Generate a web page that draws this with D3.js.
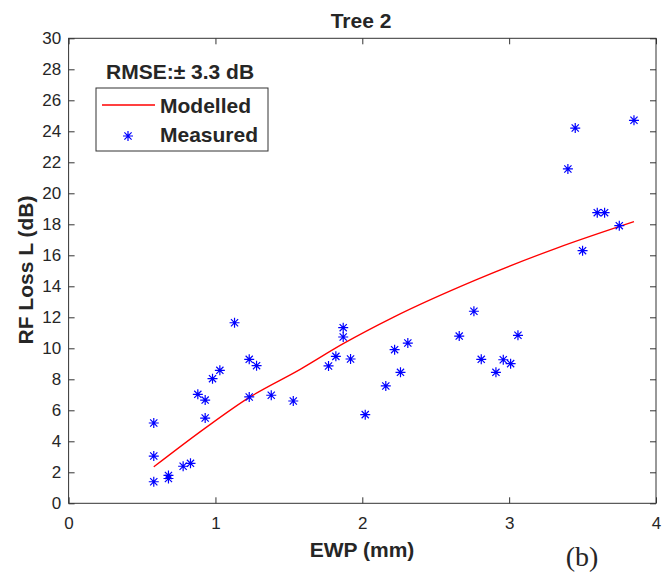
<!DOCTYPE html>
<html>
<head>
<meta charset="utf-8">
<script src="https://cdn.jsdelivr.net/npm/d3@7"></script>
<style>
  body { margin: 0; background: #fff; }
  text { font-family: "Liberation Sans", Arial, sans-serif; fill: #262626; }
</style>
</head>
<body>
<svg id="chart" width="665" height="575"></svg>
<script>
// measured points (EWP mm, RF loss dB)
const measuredX = [0.58, 0.58, 0.58, 0.68, 0.68, 0.78, 0.83, 0.88, 0.93, 0.93, 0.98, 1.03, 1.13, 1.23, 1.23, 1.28, 1.38, 1.53,
  1.77, 1.82, 1.87, 1.87, 1.92, 2.02, 2.16, 2.22, 2.26, 2.31, 2.66, 2.76, 2.81, 2.91, 2.96, 3.01, 3.06,
  3.40, 3.45, 3.50, 3.60, 3.65, 3.75, 3.85];
const measuredY = [5.18, 3.05, 1.39, 1.8, 1.6, 2.39, 2.58, 7.03, 6.66, 5.50, 8.04, 8.58, 11.65, 9.29, 6.86, 8.88, 6.97, 6.60,
  8.86, 9.48, 11.33, 10.73, 9.31, 5.72, 7.57, 9.91, 8.45, 10.34, 10.79, 12.39, 9.29, 8.45, 9.26, 9.01, 10.84,
  21.57, 24.21, 16.30, 18.75, 18.75, 17.91, 24.71];

// modelled curve
const modelX = [0.58, 0.93, 1.22, 1.58, 1.87, 2.21, 2.77, 3.32, 3.85];
const modelY = [2.35, 4.85, 6.77, 8.66, 10.3, 12.0, 14.4, 16.45, 18.17];

const xTicks = [0, 1, 2, 3, 4];
const yTicks = d3.range(0, 31, 2);

const svg = d3.select("#chart");
const plotL = 68.6, plotR = 656, plotT = 38.3, plotB = 503.3;

const x = d3.scaleLinear().domain([0, 4]).range([plotL, plotR]);
const y = d3.scaleLinear().domain([0, 30]).range([plotB, plotT]);

// axes, ticks pointing inward like matlab
let styleAxis = (g) => {
  g.select(".domain").remove();
  g.selectAll(".tick line").attr("stroke", "#333");
  g.selectAll(".tick text").style("font-size", "17px").attr("fill", "#262626");
};

svg.append("g").attr("transform", `translate(0,${plotB})`)
  .call(d3.axisBottom(x).tickValues(xTicks).tickFormat(d3.format("d")).tickSizeInner(-6).tickSizeOuter(0).tickPadding(14))
  .call(styleAxis);
svg.append("g").attr("transform", `translate(0,${plotT})`)
  .call(d3.axisTop(x).tickValues(xTicks).tickFormat("").tickSizeInner(-6).tickSizeOuter(0))
  .call(styleAxis);
svg.append("g").attr("transform", `translate(${plotL},0)`)
  .call(d3.axisLeft(y).tickValues(yTicks).tickFormat(d3.format("d")).tickSizeInner(-6).tickSizeOuter(0).tickPadding(7.5))
  .call(styleAxis);
svg.append("g").attr("transform", `translate(${plotR},0)`)
  .call(d3.axisRight(y).tickValues(yTicks).tickFormat("").tickSizeInner(-6).tickSizeOuter(0))
  .call(styleAxis);

svg.append("rect")
  .attr("x", plotL).attr("y", plotT)
  .attr("width", plotR - plotL).attr("height", plotB - plotT)
  .attr("fill", "none").attr("stroke", "#333").attr("stroke-width", 1);

// modelled line
const line = d3.line().x(d => x(d[0])).y(d => y(d[1])).curve(d3.curveMonotoneX);
svg.append("path")
  .datum(d3.zip(modelX, modelY))
  .attr("d", line)
  .attr("fill", "none")
  .attr("stroke", "#ff0000")
  .attr("stroke-width", 1.3);

// asterisk marker
const star = "M-5,0H5M0,-5V5M-3.6,-3.6L3.6,3.6M-3.6,3.6L3.6,-3.6";
svg.append("g")
  .selectAll("path")
  .data(d3.zip(measuredX, measuredY))
  .join("path")
    .attr("transform", d => `translate(${x(d[0])},${y(d[1])})`)
    .attr("d", star)
    .attr("fill", "none")
    .attr("stroke", "#0000ff")
    .attr("stroke-width", 1.2);

// titles
svg.append("text").attr("x", 361).attr("y", 28).attr("text-anchor", "middle")
  .style("font-size", "21px").style("font-weight", "bold").text("Tree 2");
svg.append("text").attr("x", 362).attr("y", 557).attr("text-anchor", "middle")
  .style("font-size", "21px").style("font-weight", "bold").text("EWP (mm)");
svg.append("text").attr("transform", "translate(33,270) rotate(-90)").attr("text-anchor", "middle")
  .style("font-size", "21px").style("font-weight", "bold").text("RF Loss L (dB)");
svg.append("text").attr("x", 582).attr("y", 566).attr("text-anchor", "middle")
  .style("font-family", "'Liberation Serif', 'Times New Roman', serif").style("font-size", "28px")
  .attr("fill", "#000").text("(b)");

svg.append("text").attr("x", 106).attr("y", 78.5)
  .style("font-size", "21px").style("font-weight", "bold").text("RMSE:\u00b1 3.3 dB");

// legend
const lg = svg.append("g");
lg.append("rect").attr("x", 96).attr("y", 88).attr("width", 172).attr("height", 63)
  .attr("fill", "#fff").attr("stroke", "#333").attr("stroke-width", 1);
lg.append("line").attr("x1", 102).attr("x2", 155).attr("y1", 105).attr("y2", 105)
  .attr("stroke", "#ff0000").attr("stroke-width", 1.3);
lg.append("path").attr("transform", "translate(128,136)").attr("d", star)
  .attr("fill", "none").attr("stroke", "#0000ff").attr("stroke-width", 1.2);
lg.append("text").attr("x", 160).attr("y", 113)
  .style("font-size", "21px").style("font-weight", "bold").attr("fill", "#000").text("Modelled");
lg.append("text").attr("x", 160).attr("y", 142)
  .style("font-size", "21px").style("font-weight", "bold").attr("fill", "#000").text("Measured");
</script>
</body>
</html>
